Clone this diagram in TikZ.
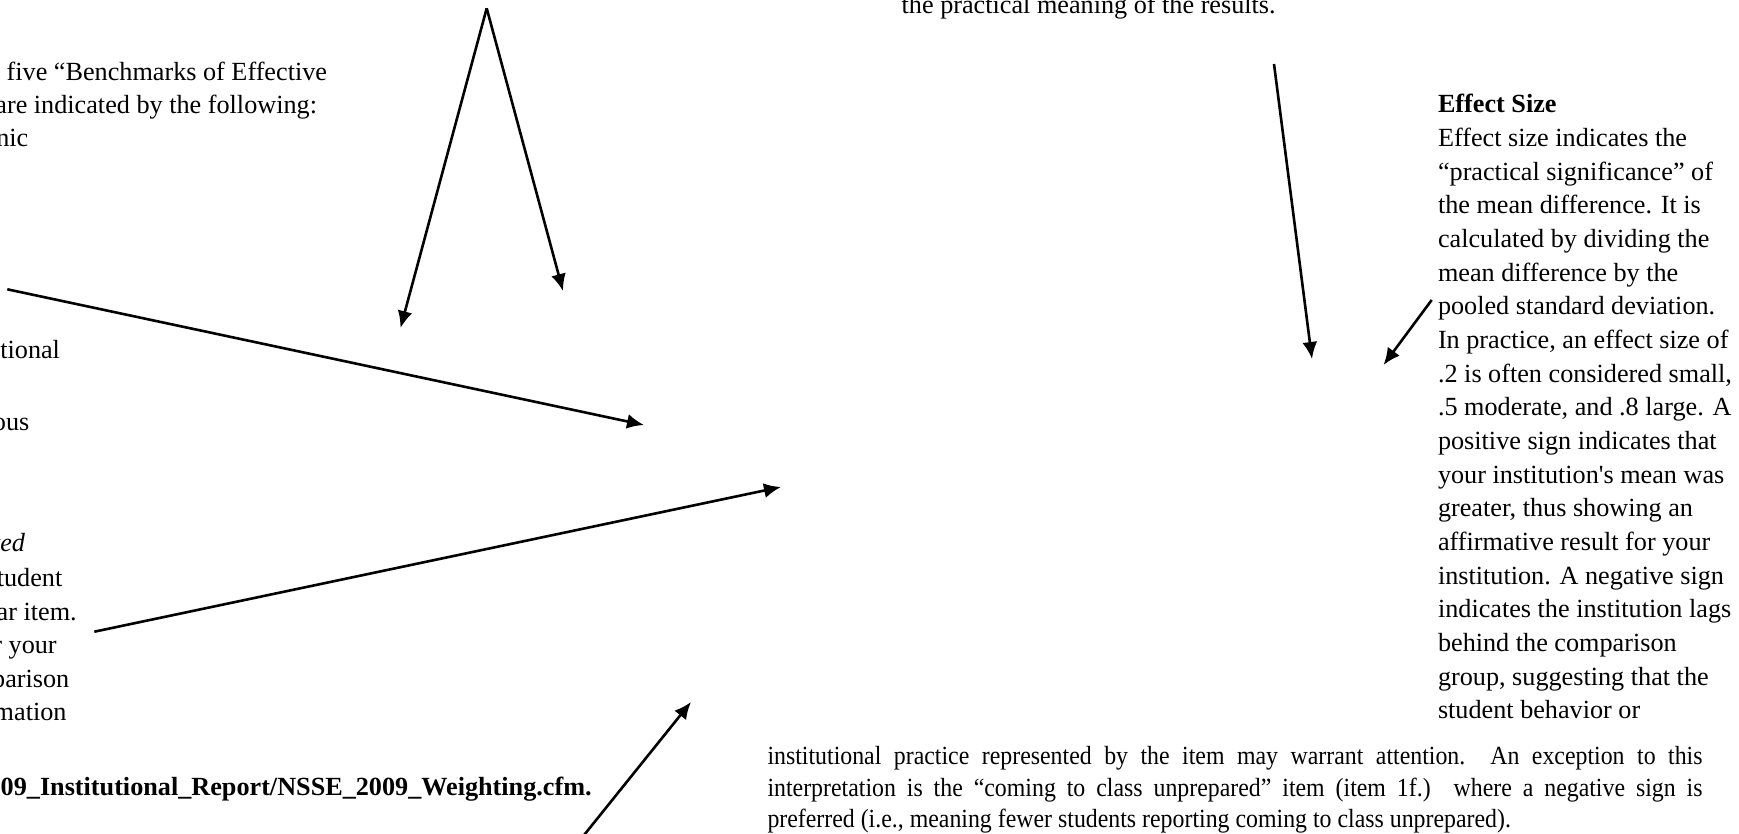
\documentclass[tikz,border=0pt]{standalone}
\usepackage{fontspec}
\setmainfont{Liberation Serif}[Ligatures=TeXOff]
\newfontfamily\condserif{Liberation Serif}[Ligatures=TeXOff, FakeStretch=0.91]
\usetikzlibrary{arrows.meta}
\begin{document}
\begin{tikzpicture}[x=1pt,y=-1pt,
  txt/.style={inner sep=0pt, outer sep=0pt, font=\fontsize{26.2pt}{33.7pt}\selectfont},
  lft/.style={txt, anchor=base east},
  rgt/.style={txt, anchor=base west},
  bot/.style={rgt, font=\fontsize{26.2pt}{33.7pt}\condserif},
  arr/.style={line width=2.6pt, -{Latex[length=17pt,width=15pt]}}]
\useasboundingbox (0,0) rectangle (1739,834);
% ---- left column (cut off at left edge)
\node[lft] (l1) at (327,80.7) {five “Benchmarks of Effective};
\node[lft] (l2) at (317,113.3) {are indicated by the following:};
\node[lft] (l3) at (28.3,146.7) {nic};
\node[lft] (l4) at (60,358.3) {tional};
\node[lft] (l5) at (29.3,430) {ous};
\node[lft] (l6) at (25,551.7) {\itshape ted};
\node[lft] (l7) at (62.3,586.7) {tudent};
\node[lft] (l8) at (76.7,620) {ar item.};
\node[lft] (l9) at (56.7,653) {r your};
\node[lft] (l10) at (69.3,687) {parison};
\node[lft] (l11) at (66.5,720) {mation};
\node[lft] (l12) at (591.7,795) {\bfseries 09\_Institutional\_Report/NSSE\_2009\_Weighting.cfm.};
% ---- top text
\node[rgt] (top) at (901.7,13.3) {the practical meaning of the results.};
% ---- right column
\node[rgt] (es) at (1438,112.7) {\bfseries Effect Size};
\foreach \t [count=\i] in {
  {Effect size indicates the},
  {“practical significance” of},
  {the mean difference. It is},
  {calculated by dividing the},
  {mean difference by the},
  {pooled standard deviation.},
  {In practice, an effect size of},
  {.2 is often considered small,},
  {.5 moderate, and .8 large. A},
  {positive sign indicates that},
  {your institution's mean was},
  {greater, thus showing an},
  {affirmative result for your},
  {institution. A negative sign},
  {indicates the institution lags},
  {behind the comparison},
  {group, suggesting that the},
  {student behavior or}}
  \node[rgt] (r\i) at (1438,{112.7+33.67*\i}) {\t};
% ---- bottom paragraph (justified, condensed)
\node[bot] (b1) at (767.5,764) {\makebox[935pt][s]{institutional practice represented by the item may warrant attention.\ \ An exception to this}};
\node[bot] (b2) at (767.5,796) {\makebox[935pt][s]{interpretation is the “coming to class unprepared” item (item 1f.) where a negative sign is}};
\node[bot] (b3) at (767.5,827) {preferred (i.e., meaning fewer students reporting coming to class unprepared).};
% ---- arrows
\coordinate (apex) at (486.7,8.3);
\coordinate (t1) at (400.5,328);
\coordinate (t2) at (563,291);
\coordinate (s3) at (7.3,289.3);
\coordinate (t3) at (644,425);
\coordinate (s4) at (94.3,631.7);
\coordinate (t4) at (781,487);
\coordinate (s5) at (583.3,836);
\coordinate (t5) at (691,702);
\coordinate (s6) at (1274,64);
\coordinate (t6) at (1312,359);
\coordinate (s7) at (1431.7,300);
\coordinate (t7) at (1383.5,365);
\draw[arr] (apex) -- (t1);
\draw[arr] (apex) -- (t2);
\draw[arr] (s3) -- (t3);
\draw[arr] (s4) -- (t4);
\draw[arr] (s5) -- (t5);
\draw[arr] (s6) -- (t6);
\draw[arr] (s7) -- (t7);
\end{tikzpicture}
\end{document}
